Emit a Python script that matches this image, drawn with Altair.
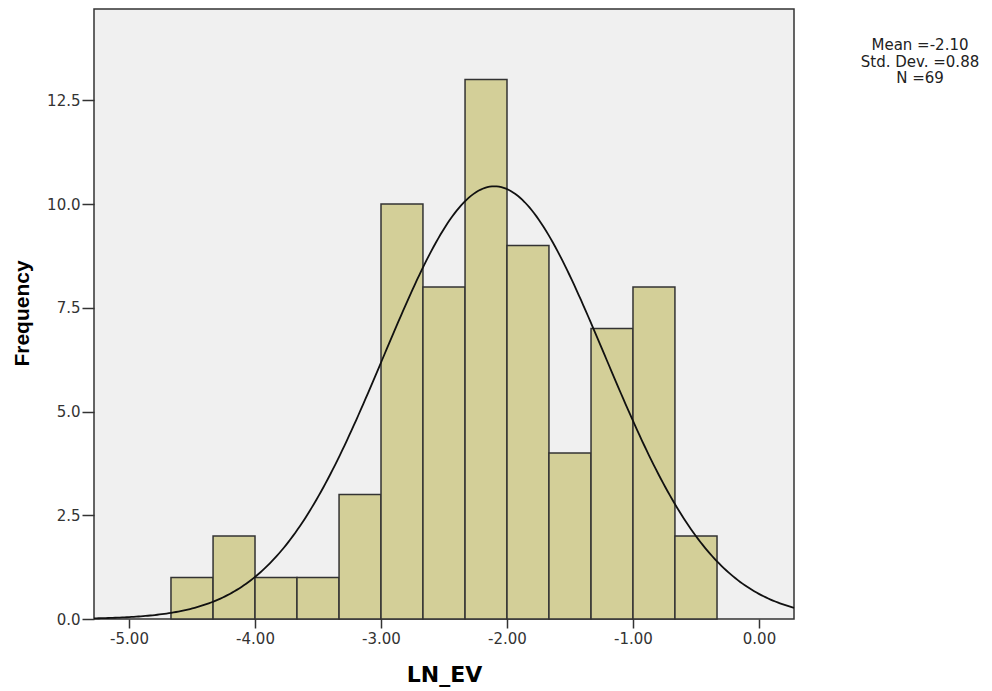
import altair as alt
import numpy as np
import pandas as pd

# Histogram bins (left edges, right edges) and frequencies
bin_start = [-4.667, -4.333, -4.0, -3.667, -3.333, -3.0, -2.667, -2.333, -2.0, -1.667, -1.333, -1.0, -0.667]
bin_end = [-4.333, -4.0, -3.667, -3.333, -3.0, -2.667, -2.333, -2.0, -1.667, -1.333, -1.0, -0.667, -0.333]
counts = [1, 2, 1, 1, 3, 10, 8, 13, 9, 4, 7, 8, 2]

# Summary statistics shown in the legend
mean_val = -2.10
sd_val = 0.88
n_val = 69
bin_width = 1.0 / 3.0
stats_lines = ["Mean =-2.10", "Std. Dev. =0.88", "N =69"]

x_domain = [-5.278, 0.278]
y_domain = [0, 14.7]
x_ticks = [-5, -4, -3, -2, -1, 0]
y_ticks = [0, 2.5, 5, 7.5, 10, 12.5]

bars_df = pd.DataFrame({"start": bin_start, "end": bin_end, "count": counts})

# Fitted normal curve (scaled to frequency) from the stated mean / sd / N
xs = np.linspace(x_domain[0], x_domain[1], 300)
ys = n_val * bin_width * np.exp(-0.5 * ((xs - mean_val) / sd_val) ** 2) / (sd_val * np.sqrt(2 * np.pi))
curve_df = pd.DataFrame({"x": xs, "y": ys})

xscale = alt.Scale(domain=x_domain, nice=False, zero=False)
yscale = alt.Scale(domain=y_domain, nice=False)

x_axis = alt.Axis(
    title="LN_EV", values=x_ticks,
    labelExpr="replace(format(datum.value, '.2f'), '\u2212', '-')",
    titleFont="DejaVu Sans", titleFontSize=22, titleFontWeight="bold", titleColor="#000",
    titleX=350, titleY=62, titleBaseline="alphabetic", titleAnchor="middle",
    labelFont="DejaVu Sans", labelFontSize=15, labelColor="#333", labelPadding=3,
    tickSize=9, tickColor="#333", tickWidth=1.5, domain=False, grid=False,
)
y_axis = alt.Axis(
    title="Frequency", values=y_ticks, format=".1f",
    titleFont="Liberation Sans", titleFontSize=21, titleFontWeight="bold", titleColor="#000",
    titleX=-66, titleY=304, titleBaseline="alphabetic", titleAngle=270,
    labelFont="DejaVu Sans", labelFontSize=15, labelColor="#333", labelPadding=2,
    tickSize=12, tickColor="#333", tickWidth=1.5, domain=False, grid=False,
)

bars = alt.Chart(bars_df).mark_rect(
    fill="#D3CF98", stroke="#333333", strokeWidth=1.5
).encode(
    x=alt.X("start:Q", scale=xscale, axis=x_axis),
    x2="end:Q",
    y=alt.Y("count:Q", scale=yscale, axis=y_axis),
    y2=alt.datum(0),
)

curve = alt.Chart(curve_df).mark_line(color="#111111", strokeWidth=1.8).encode(
    x=alt.X("x:Q", scale=xscale),
    y=alt.Y("y:Q", scale=yscale),
)

stats = alt.Chart(pd.DataFrame({"a": [0]})).mark_text(
    text=stats_lines, font="DejaVu Sans", fontSize=15, color="#222",
    align="center", baseline="middle", lineHeight=16.5,
).encode(x=alt.value(826), y=alt.value(36))

chart = alt.layer(bars, curve, stats).properties(
    width=700, height=610,
    autosize=alt.AutoSizeParams(type="none"),
    padding={"left": 94, "top": 9, "right": 198, "bottom": 72},
    background="white",
).configure_view(
    fill="#F0F0F0", stroke="#333333", strokeWidth=1.5
)

chart.save("out.html", embed_options={"renderer": "svg", "actions": False})
